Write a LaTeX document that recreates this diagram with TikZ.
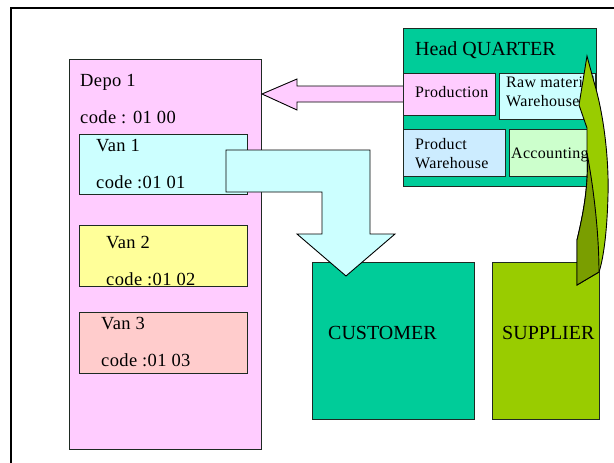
\documentclass[tikz,border=0pt]{standalone}
\usepackage{fontspec}
\setmainfont{Liberation Serif}
\definecolor{pinkc}{HTML}{FFCCFF}
\definecolor{cyanc}{HTML}{CCFFFF}
\definecolor{yellc}{HTML}{FFFF99}
\definecolor{rosec}{HTML}{FFCCCC}
\definecolor{tealc}{HTML}{00CC99}
\definecolor{bluec}{HTML}{CCECFF}
\definecolor{mintc}{HTML}{CCFFCC}
\definecolor{limec}{HTML}{99CC00}
\definecolor{darklime}{HTML}{7A9E00}
\definecolor{edgec}{HTML}{1E2A22}
\begin{document}
\begin{tikzpicture}[x=1pt,y=-1pt,
  box/.style={draw=edgec,line width=0.9pt,rectangle,inner sep=0pt,outer sep=0pt,anchor=north west},
  lbl/.style={inner sep=0pt,anchor=base west,text=black},
  big/.style={font=\fontsize{18.5}{20}\selectfont\addfontfeature{LetterSpace=2}},
  small/.style={font=\fontsize{16}{18}\selectfont\addfontfeature{LetterSpace=2}},
  huge/.style={font=\fontsize{20}{22}\selectfont},
  arr/.style={draw=black,line width=0.9pt,line join=miter}]
\useasboundingbox (0,0) rectangle (614,463);
\begin{scope}
\clip (0,0) rectangle (614,463);
\draw[line width=1.6pt] (11,8) rectangle (630,480);
\end{scope}
% Depo
\node[box,fill=pinkc,minimum width=192pt,minimum height=390pt] (depo) at (69,59) {};
\node[lbl,big] (depot) at (80,86) {Depo 1};
\node[lbl,big] (depoc) at (80,123) {code : 01 00};
\node[box,fill=cyanc,minimum width=168pt,minimum height=60pt] (van1) at (79,134) {};
\node[lbl,big] (v1t) at (96,151) {Van 1};
\node[lbl,big] (v1c) at (96,188) {code :01 01};
\node[box,fill=yellc,minimum width=168pt,minimum height=61pt] (van2) at (79,225) {};
\node[lbl,big] (v2t) at (106,248) {Van 2};
\node[lbl,big] (v2c) at (106,285) {code :01 02};
\node[box,fill=rosec,minimum width=168pt,minimum height=61pt] (van3) at (79,312) {};
\node[lbl,big] (v3t) at (101,329) {Van 3};
\node[lbl,big] (v3c) at (101,366) {code :01 03};
% Customer
\node[box,fill=tealc,minimum width=162pt,minimum height=157pt] (cust) at (312,262) {};
\node[lbl,huge] (custt) at (328,339) {CUSTOMER};
% Cyan bent arrow
\draw[arr,fill=cyanc] (226,150) -- (370,150) -- (370,234) -- (395,234) -- (346,276) -- (297,234) -- (322,234) -- (322,192) -- (226,192) -- cycle;
% Pink arrow
\draw[arr,fill=pinkc] (404,86) -- (297,86) -- (297,79) -- (262,94) -- (297,110) -- (297,102) -- (404,102);
% Head quarter
\node[box,fill=tealc,minimum width=193pt,minimum height=158pt] (hq) at (403,28) {};
\node[lbl,huge] (hqt) at (415,55) {Head QUARTER};
\node[box,fill=pinkc,minimum width=92pt,minimum height=42pt] (prod) at (403,73) {};
\node[lbl,small] (prodt) at (415,97) {Production};
\node[box,fill=cyanc,minimum width=96pt,minimum height=46pt] (raw) at (499,73) {};
\begin{scope}
\clip (499,73) rectangle (595,119);
\node[lbl,small] (rawt1) at (506,87) {Raw material};
\node[lbl,small] (rawt2) at (506,106) {Warehouse};
\end{scope}
\node[box,fill=bluec,minimum width=102pt,minimum height=47pt] (pw) at (403,129) {};
\node[lbl,small] (pwt1) at (415,149) {Product};
\node[lbl,small] (pwt2) at (415,168) {Warehouse};
\node[box,fill=mintc,minimum width=83pt,minimum height=47pt] (acc) at (509,129) {};
\node[lbl,small] (acct) at (511,158) {Accounting};
% Supplier
\node[box,fill=limec,minimum width=107pt,minimum height=157pt] (supp) at (492,262) {};
\node[lbl,huge] (suppt) at (502,339) {SUPPLIER};
% Green curved arrow
\draw[arr,fill=limec] (587,56) -- (594,82) .. controls (604,115) and (609,160) .. (608,195) .. controls (607,235) and (603,260) .. (599,272) -- (577,285) -- (577,240) .. controls (583,215) and (589,185) .. (587,153) -- (587,128) -- (579,105) -- cycle;
\draw[arr,fill=darklime] (577,285) -- (577,240) .. controls (583,215) and (589,185) .. (587,153) .. controls (594,190) and (599,235) .. (599,272) -- cycle;
\end{tikzpicture}
\end{document}
